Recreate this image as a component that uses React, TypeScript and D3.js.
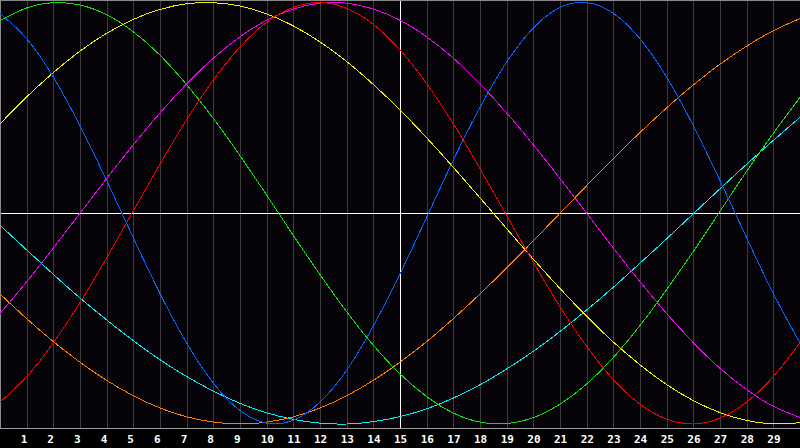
import React from "react";
import * as d3 from "d3";

const days = d3.range(0, 31);
const tickLabels = d3.range(1, 30).map(String);

const physical = [0.948,0.828,0.646,0.415,0.155,-0.117,-0.381,-0.616,-0.806,-0.936,-0.996,-0.982,-0.896,-0.745,-0.535,-0.288,-0.019,0.252,0.502,0.717,0.879,0.977,0.999,0.949,0.828,0.646,0.415,0.155,-0.117,-0.381,-0.616];
const emotional = [-0.896,-0.775,-0.615,-0.424,-0.212,0.011,0.233,0.444,0.632,0.789,0.906,0.977,1.0,0.972,0.896,0.775,0.615,0.424,0.212,-0.011,-0.233,-0.444,-0.632,-0.789,-0.906,-0.977,-1.0,-0.972,-0.896,-0.775,-0.615];
const intellectual = [0.914,0.974,0.999,0.988,0.942,0.861,0.750,0.610,0.450,0.273,0.086,-0.105,-0.291,-0.467,-0.626,-0.762,-0.870,-0.948,-0.991,-0.998,-0.970,-0.906,-0.810,-0.684,-0.533,-0.362,-0.181,0.009,0.199,0.379,0.550];
const intuitive = [-0.476,-0.325,-0.165,0,0.165,0.325,0.476,0.614,0.736,0.837,0.916,0.969,0.997,0.997,0.969,0.916,0.837,0.736,0.614,0.476,0.325,0.165,0,-0.165,-0.325,-0.476,-0.614,-0.736,-0.837,-0.916,-0.969];
const aesthetic = [0.424,0.552,0.667,0.769,0.854,0.920,0.967,0.994,0.999,0.983,0.946,0.889,0.813,0.720,0.611,0.490,0.358,0.218,0.073,-0.073,-0.218,-0.357,-0.489,-0.611,-0.719,-0.813,-0.889,-0.946,-0.983,-0.999,-0.994];
const awareness = [-0.383,-0.500,-0.609,-0.707,-0.793,-0.866,-0.924,-0.966,-0.991,-1.0,-0.991,-0.966,-0.924,-0.866,-0.793,-0.707,-0.609,-0.500,-0.383,-0.259,-0.131,0,0.131,0.259,0.383,0.500,0.609,0.707,0.793,0.866,0.924];
const spiritual = [-0.057,-0.174,-0.290,-0.402,-0.506,-0.605,-0.695,-0.775,-0.844,-0.902,-0.947,-0.978,-0.996,-1.0,-0.989,-0.965,-0.928,-0.877,-0.814,-0.739,-0.655,-0.561,-0.459,-0.351,-0.237,-0.121,-0.002,0.116,0.233,0.346,0.455];

const seriesList = [
  { name: "spiritual", values: spiritual, color: "#00f0f0" },
  { name: "awareness", values: awareness, color: "#ff7a00" },
  { name: "intellectual", values: intellectual, color: "#10e010" },
  { name: "aesthetic", values: aesthetic, color: "#f0f000" },
  { name: "intuitive", values: intuitive, color: "#f000f0" },
  { name: "emotional", values: emotional, color: "#f00000" },
  { name: "physical", values: physical, color: "#0064ff" },
];

const W = 800;
const H = 448;
const plotBottom = 428;

export default function App() {
  const x = d3.scaleLinear().domain([0, 30]).range([0, W]);
  const y = d3.scaleLinear().domain([-1, 1]).range([424, 2.5]);
  const line = d3
    .line<number>()
    .x((_, i) => x(days[i]))
    .y((v) => y(v))
    .curve(d3.curveNatural);
  const midY = Math.round(y(0)) + 0.5;

  return (
    <svg
      width={W}
      height={H}
      style={{ position: "fixed", left: 0, top: 0, display: "block" }}
    >
      <rect x={0} y={0} width={W} height={H} fill="#000000" />
      <rect x={0} y={0} width={W} height={plotBottom} fill="#060409" />
      {tickLabels.map((t) => {
        const d = +t;
        const px = Math.round(x(d)) + 0.5;
        return (
          <line
            key={"g" + t}
            x1={px}
            x2={px}
            y1={0}
            y2={plotBottom}
            stroke={d === 15 ? "#ffffff" : "#3c3c3c"}
            strokeWidth={1}
            shapeRendering="crispEdges"
          />
        );
      })}
      <line x1={0} x2={W} y1={midY} y2={midY} stroke="#ffffff" strokeWidth={1} shapeRendering="crispEdges" />
      <line x1={0} x2={W} y1={0.5} y2={0.5} stroke="#8a8a8a" strokeWidth={1} shapeRendering="crispEdges" />
      <line x1={0.5} x2={0.5} y1={0} y2={plotBottom} stroke="#8a8a8a" strokeWidth={1} shapeRendering="crispEdges" />
      <line x1={0} x2={W} y1={plotBottom + 0.5} y2={plotBottom + 0.5} stroke="#9a9a9a" strokeWidth={1} shapeRendering="crispEdges" />
      <g>
        {seriesList.map((s) => (
          <path
            key={s.name}
            d={line(s.values) || ""}
            fill="none"
            stroke={s.color}
            strokeWidth={1}
            shapeRendering="crispEdges"
          />
        ))}
      </g>
      {tickLabels.map((t) => (
        <text
          key={"t" + t}
          x={x(+t) - 6}
          y={443}
          textAnchor="start"
          fill="#ffffff"
          fontFamily="'DejaVu Sans Mono', monospace"
          fontWeight="bold"
          fontSize={11}
        >
          {t}
        </text>
      ))}
    </svg>
  );
}
